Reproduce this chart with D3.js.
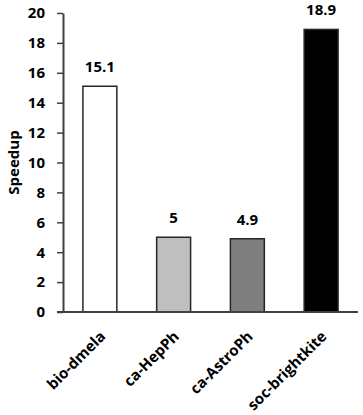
<!DOCTYPE html>
<html>
<head>
<meta charset="utf-8">
<script src="https://cdn.jsdelivr.net/npm/d3@7"></script>
<style>
  body { margin: 0; background: #fff; }
  text { font-family: "Open Sans", sans-serif; font-weight: bold; fill: #000; }
</style>
</head>
<body>
<div id="container"></div>
<script>
// chart data
var datasets = ["bio-dmela", "ca-HepPh", "ca-AstroPh", "soc-brightkite"];
var speedups = [15.1, 5, 4.9, 18.9];
var barColors = ["#ffffff", "#bfbfbf", "#7f7f7f", "#000000"];
var yTicks = [0, 2, 4, 6, 8, 10, 12, 14, 16, 18, 20];

var width = 363, height = 415;
var margin = {left: 63, right: 5, top: 13, bottom: 103};

var svg = d3.select("#container").append("svg")
    .attr("width", width)
    .attr("height", height);

var x = d3.scaleBand()
    .domain(datasets)
    .range([margin.left, width - margin.right])
    .paddingInner(0.54)
    .paddingOuter(0.27);

var y = d3.scaleLinear()
    .domain([0, 20])
    .range([height - margin.bottom, margin.top]);

// bars
svg.append("g")
    .selectAll("rect")
    .data(speedups)
    .enter().append("rect")
    .attr("x", function(d, i) { return x(datasets[i]); })
    .attr("y", function(d) { return y(d); })
    .attr("width", x.bandwidth())
    .attr("height", function(d) { return y(0) - y(d); })
    .style("fill", function(d, i) { return barColors[i]; })
    .style("stroke", "#262626")
    .style("stroke-width", 1.5);

// value labels
svg.append("g")
    .selectAll("text")
    .data(speedups)
    .enter().append("text")
    .attr("x", function(d, i) { return x(datasets[i]) + x.bandwidth() / 2; })
    .attr("y", function(d) { return y(d) - 14; })
    .attr("text-anchor", "middle")
    .style("font-size", "15px")
    .text(function(d) { return d; });

// y axis
var yAxis = svg.append("g")
    .attr("transform", "translate(" + margin.left + ",0)")
    .call(d3.axisLeft(y).tickValues(yTicks).tickSize(6).tickSizeOuter(0).tickPadding(12));
yAxis.select(".domain").style("stroke", "#404040").style("stroke-width", 2);
yAxis.selectAll(".tick line").style("stroke", "#404040").style("stroke-width", 1.5);
yAxis.selectAll(".tick text")
    .style("font-size", "15px")
    .style("font-family", "'Open Sans', sans-serif")
    .style("font-weight", "bold")
    .attr("fill", "#000");

// baseline
svg.append("line")
    .attr("x1", margin.left - 6)
    .attr("x2", width - margin.right)
    .attr("y1", y(0))
    .attr("y2", y(0))
    .style("stroke", "#404040")
    .style("stroke-width", 2);

// category labels
svg.append("g")
    .selectAll("text")
    .data(datasets)
    .enter().append("text")
    .attr("transform", function(d) {
        return "translate(" + (x(d) + x.bandwidth() / 2 - 1) + "," + (y(0) + 18) + ") rotate(-45)";
    })
    .attr("text-anchor", "end")
    .attr("dy", "0.7em")
    .style("font-size", "15px")
    .text(function(d) { return d; });

// y title
svg.append("text")
    .attr("transform", "translate(19," + (y(10)) + ") rotate(-90)")
    .attr("text-anchor", "middle")
    .style("font-size", "15px")
    .text("Speedup");
</script>
</body>
</html>
